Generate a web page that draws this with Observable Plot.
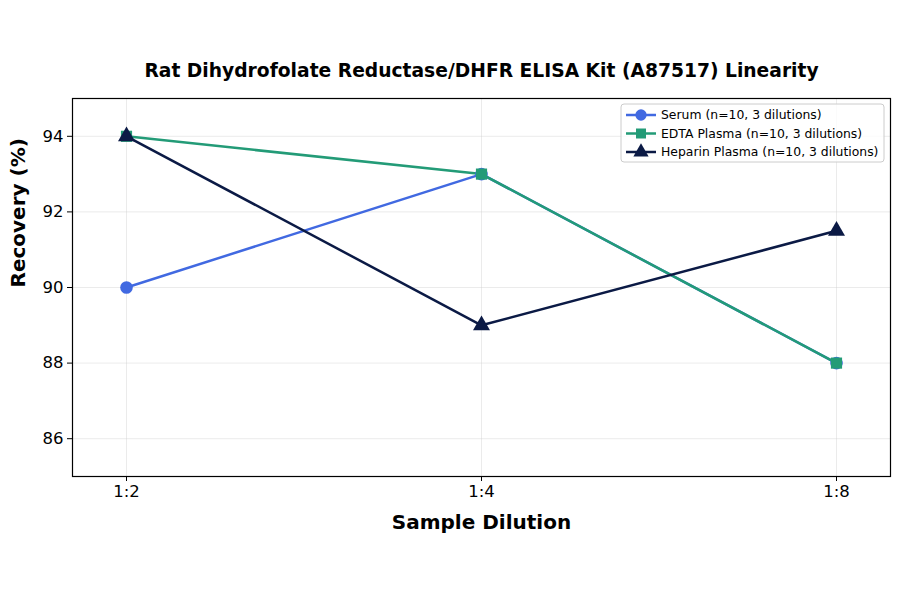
<!DOCTYPE html>
<html><head><meta charset="utf-8">
<script src="https://cdn.jsdelivr.net/npm/d3@7"></script>
<script src="https://cdn.jsdelivr.net/npm/@observablehq/plot@0.6"></script>
<style>body{margin:0;background:#fff}</style>
</head><body><div id="chart"></div>
<script>
const dilutions = ["1:2", "1:4", "1:8"];
const serum = [90, 93, 88];
const edta = [94, 93, 88];
const heparin = [94, 89, 91.5];
const seriesNames = ["Serum (n=10, 3 dilutions)", "EDTA Plasma (n=10, 3 dilutions)", "Heparin Plasma (n=10, 3 dilutions)"];
const colors = ["#4169e1", "#239b77", "#0b1a45"];
const symbols = ["circle", "square", "triangle"];
const yTicks = [86, 88, 90, 92, 94];

const rows = [];
[serum, edta, heparin].forEach((vals, i) => vals.forEach((v, j) => rows.push({series: seriesNames[i], dilution: dilutions[j], value: v})));

const font = "DejaVu Sans, sans-serif";
const plot = Plot.plot({
  width: 900, height: 594,
  marginLeft: 72, marginRight: 10, marginTop: 98, marginBottom: 118,
  style: {fontFamily: font, fontSize: "16.5px", color: "#000", background: "#fff"},
  x: {type: "point", domain: dilutions, padding: 0.149, label: null},
  y: {domain: [85, 95], ticks: yTicks, label: null},
  color: {domain: seriesNames, range: colors},
  symbol: {domain: seriesNames, range: symbols},
  marks: [
    Plot.gridX(dilutions, {stroke: "#ccc", strokeOpacity: 0.5, strokeWidth: 0.8}),
    Plot.gridY(yTicks, {stroke: "#ccc", strokeOpacity: 0.5, strokeWidth: 0.8}),
    Plot.axisX({tickSize: 5, tickPadding: 4, fontSize: 16.5}),
    Plot.axisY({ticks: yTicks, tickSize: 5, tickPadding: 4, fontSize: 16.5}),
    Plot.line(rows, {x: "dilution", y: "value", z: "series", stroke: "series", strokeWidth: 2.5}),
    Plot.dot(rows, {x: "dilution", y: "value", fill: "series", symbol: "series", r: 6.3, stroke: null}),
    Plot.frame({stroke: "#000", strokeWidth: 1.2}),
    Plot.text(["Rat Dihydrofolate Reductase/DHFR ELISA Kit (A87517) Linearity"], {frameAnchor: "top", dy: -35, fontSize: 18.7, fontWeight: "bold", fill: "#000"}),
    Plot.text(["Sample Dilution"], {frameAnchor: "bottom", dy: 52, fontSize: 20, fontWeight: "bold", fill: "#000"}),
    Plot.text(["Recovery (%)"], {frameAnchor: "left", dx: -54, rotate: -90, fontSize: 20, fontWeight: "bold", fill: "#000"})
  ]
});

// legend
const svg = d3.select(plot);
const lg = svg.append("g").attr("font-family", font).attr("font-size", 12.4).attr("text-anchor", "start");
lg.append("rect").attr("x", 621).attr("y", 104).attr("width", 263).attr("height", 58).attr("rx", 3)
  .attr("fill", "#fff").attr("fill-opacity", 0.8).attr("stroke", "#ccc");
seriesNames.forEach((name, i) => {
  const y = 115 + i * 18.5;
  lg.append("line").attr("x1", 626).attr("x2", 656).attr("y1", y).attr("y2", y).attr("stroke", colors[i]).attr("stroke-width", 2.5);
  const sym = d3.symbol().type([d3.symbolCircle, d3.symbolSquare, d3.symbolTriangle][i]).size(100);
  lg.append("path").attr("d", sym()).attr("transform", `translate(641,${y})`).attr("fill", colors[i]);
  lg.append("text").attr("x", 661).attr("y", y).attr("dy", "0.35em").attr("fill", "#000").text(name);
});
document.getElementById("chart").appendChild(plot);
</script></body></html>
